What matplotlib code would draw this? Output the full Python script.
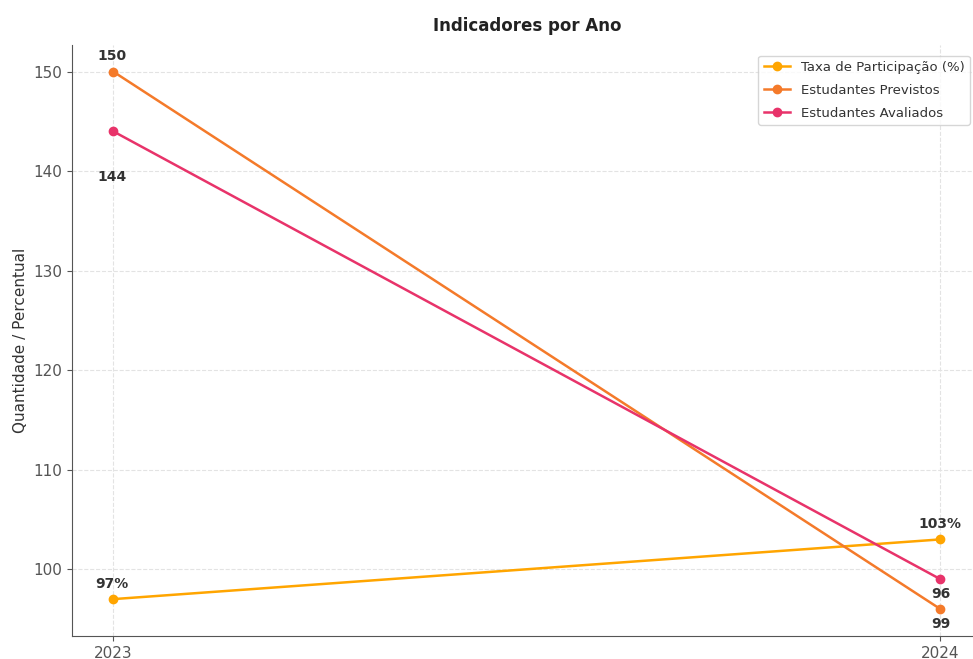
import matplotlib.pyplot as plt

anos = [2023, 2024]
taxa = [97, 103]
previstos = [150, 96]
avaliados = [144, 99]

# textos dos rotulos como aparecem no grafico
rot_taxa = ['97%', '103%']
rot_previstos = ['150', '99']
rot_avaliados = ['144', '96']

fig = plt.figure(figsize=(9.73, 6.59), dpi=100)
ax = fig.add_axes([0.074, 0.035, 0.935, 0.897])

c_taxa = '#FFA500'
c_prev = '#F47A2A'
c_aval = '#E8336A'

ax.plot(anos, taxa, marker='o', color=c_taxa, lw=1.8, ms=6, label='Taxa de Participação (%)')
ax.plot(anos, previstos, marker='o', color=c_prev, lw=1.8, ms=6, label='Estudantes Previstos')
ax.plot(anos, avaliados, marker='o', color=c_aval, lw=1.8, ms=6, label='Estudantes Avaliados')

kw = dict(textcoords='offset points', ha='center', va='center',
          fontsize=10, fontweight='bold', color='#333333')
ax.annotate(rot_taxa[0], (anos[0], taxa[0]), xytext=(-1, 11), **kw)
ax.annotate(rot_taxa[1], (anos[1], taxa[1]), xytext=(0, 11), **kw)
ax.annotate(rot_previstos[0], (anos[0], previstos[0]), xytext=(-1, 11), **kw)
ax.annotate(rot_previstos[1], (anos[1], previstos[1]), xytext=(0, -11), **kw)
ax.annotate(rot_avaliados[0], (anos[0], avaliados[0]), xytext=(-1, -33), **kw)
ax.annotate(rot_avaliados[1], (anos[1], avaliados[1]), xytext=(0, -11), **kw)

ax.set_xticks(anos)
ax.set_xticklabels([str(a) for a in anos], fontsize=11, color='#333333')
ax.tick_params(axis='y', labelsize=11, labelcolor='#333333')
ax.tick_params(colors='#555555')
ax.set_ylabel('Quantidade / Percentual', fontsize=11, color='#333333')
ax.set_title('Indicadores por Ano', fontsize=12, fontweight='bold', pad=10, color='#222222')
ax.grid(True, color='#e3e3e3', lw=0.8, ls='--')
ax.spines['top'].set_visible(False)
ax.spines['right'].set_visible(False)
ax.spines['left'].set_color('#555555')
ax.spines['bottom'].set_color('#555555')

ax.legend(loc='upper right', fontsize=9.5, bbox_to_anchor=(0.994, 0.993), frameon=True,
          labelspacing=0.75, labelcolor='#333333')

fig.savefig('out.png', dpi=100)
